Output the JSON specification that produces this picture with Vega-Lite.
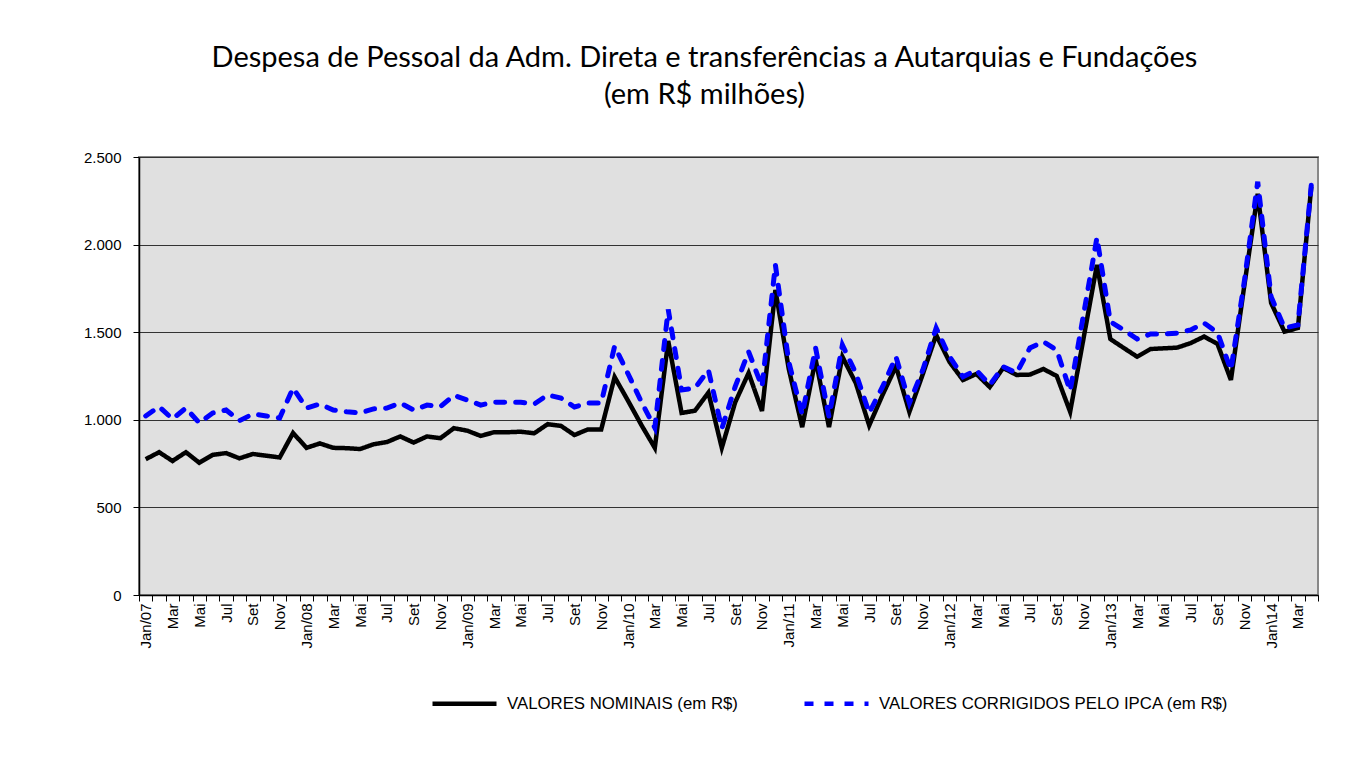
{
  "$schema": "https://vega.github.io/schema/vega-lite/v6.json",
  "width": 1179,
  "height": 438,
  "autosize": "none",
  "padding": {"left": 139, "top": 157, "right": 31, "bottom": 185},
  "background": "white",
  "title": {
    "text": ["Despesa de Pessoal da Adm. Direta e transferências a Autarquias e Fundações", "(em R$ milhões)"],
    "font": "Lato",
    "fontSize": 29,
    "fontWeight": "normal",
    "color": "black",
    "lineHeight": 37,
    "offset": 40,
    "anchor": "middle",
    "dx": -24
  },
  "data": {
    "values": [
      {"mes": "Jan/07", "nominal": 775, "ipca": 1022},
      {"mes": "Fev/07", "nominal": 815, "ipca": 1075},
      {"mes": "Mar/07", "nominal": 765, "ipca": 1005},
      {"mes": "Abr/07", "nominal": 815, "ipca": 1067},
      {"mes": "Mai/07", "nominal": 755, "ipca": 982},
      {"mes": "Jun/07", "nominal": 800, "ipca": 1039},
      {"mes": "Jul/07", "nominal": 810, "ipca": 1056},
      {"mes": "Ago/07", "nominal": 780, "ipca": 995},
      {"mes": "Set/07", "nominal": 805, "ipca": 1033},
      {"mes": "Out/07", "nominal": 795, "ipca": 1022},
      {"mes": "Nov/07", "nominal": 785, "ipca": 1010},
      {"mes": "Dez/07", "nominal": 925, "ipca": 1181},
      {"mes": "Jan/08", "nominal": 840, "ipca": 1067},
      {"mes": "Fev/08", "nominal": 865, "ipca": 1090},
      {"mes": "Mar/08", "nominal": 840, "ipca": 1056},
      {"mes": "Abr/08", "nominal": 838, "ipca": 1046},
      {"mes": "Mai/08", "nominal": 833, "ipca": 1039},
      {"mes": "Jun/08", "nominal": 860, "ipca": 1062},
      {"mes": "Jul/08", "nominal": 873, "ipca": 1067},
      {"mes": "Ago/08", "nominal": 905, "ipca": 1096},
      {"mes": "Set/08", "nominal": 870, "ipca": 1056},
      {"mes": "Out/08", "nominal": 905, "ipca": 1084},
      {"mes": "Nov/08", "nominal": 895, "ipca": 1075},
      {"mes": "Dez/08", "nominal": 952, "ipca": 1140},
      {"mes": "Jan/09", "nominal": 938, "ipca": 1113},
      {"mes": "Fev/09", "nominal": 908, "ipca": 1084},
      {"mes": "Mar/09", "nominal": 929, "ipca": 1101},
      {"mes": "Abr/09", "nominal": 929, "ipca": 1100},
      {"mes": "Mai/09", "nominal": 932, "ipca": 1100},
      {"mes": "Jun/09", "nominal": 923, "ipca": 1090},
      {"mes": "Jul/09", "nominal": 975, "ipca": 1142},
      {"mes": "Ago/09", "nominal": 965, "ipca": 1124},
      {"mes": "Set/09", "nominal": 913, "ipca": 1073},
      {"mes": "Out/09", "nominal": 945, "ipca": 1096},
      {"mes": "Nov/09", "nominal": 945, "ipca": 1096},
      {"mes": "Dez/09", "nominal": 1244, "ipca": 1420},
      {"mes": "Jan/10", "nominal": 1109, "ipca": 1263},
      {"mes": "Fev/10", "nominal": 970, "ipca": 1102},
      {"mes": "Mar/10", "nominal": 840, "ipca": 955},
      {"mes": "Abr/10", "nominal": 1450, "ipca": 1630},
      {"mes": "Mai/10", "nominal": 1039, "ipca": 1170},
      {"mes": "Jun/10", "nominal": 1052, "ipca": 1181},
      {"mes": "Jul/10", "nominal": 1155, "ipca": 1284},
      {"mes": "Ago/10", "nominal": 840, "ipca": 950},
      {"mes": "Set/10", "nominal": 1100, "ipca": 1189},
      {"mes": "Out/10", "nominal": 1267, "ipca": 1389},
      {"mes": "Nov/10", "nominal": 1050, "ipca": 1189},
      {"mes": "Dez/10", "nominal": 1741, "ipca": 1884},
      {"mes": "Jan/11", "nominal": 1290, "ipca": 1330},
      {"mes": "Fev/11", "nominal": 958, "ipca": 1030},
      {"mes": "Mar/11", "nominal": 1345, "ipca": 1410},
      {"mes": "Abr/11", "nominal": 958, "ipca": 1018},
      {"mes": "Mai/11", "nominal": 1360, "ipca": 1427},
      {"mes": "Jun/11", "nominal": 1210, "ipca": 1267},
      {"mes": "Jul/11", "nominal": 968, "ipca": 1039},
      {"mes": "Ago/11", "nominal": 1142, "ipca": 1189},
      {"mes": "Set/11", "nominal": 1305, "ipca": 1360},
      {"mes": "Out/11", "nominal": 1045, "ipca": 1096},
      {"mes": "Nov/11", "nominal": 1260, "ipca": 1284},
      {"mes": "Dez/11", "nominal": 1484, "ipca": 1524},
      {"mes": "Jan/12", "nominal": 1330, "ipca": 1360},
      {"mes": "Fev/12", "nominal": 1227, "ipca": 1246},
      {"mes": "Mar/12", "nominal": 1262, "ipca": 1284},
      {"mes": "Abr/12", "nominal": 1187, "ipca": 1199},
      {"mes": "Mai/12", "nominal": 1296, "ipca": 1303},
      {"mes": "Jun/12", "nominal": 1256, "ipca": 1267},
      {"mes": "Jul/12", "nominal": 1258, "ipca": 1410},
      {"mes": "Ago/12", "nominal": 1290, "ipca": 1446},
      {"mes": "Set/12", "nominal": 1250, "ipca": 1398},
      {"mes": "Out/12", "nominal": 1046, "ipca": 1165},
      {"mes": "Nov/12", "nominal": 1465, "ipca": 1600},
      {"mes": "Dez/12", "nominal": 1884, "ipca": 2040},
      {"mes": "Jan/13", "nominal": 1461, "ipca": 1560},
      {"mes": "Fev/13", "nominal": 1410, "ipca": 1513},
      {"mes": "Mar/13", "nominal": 1360, "ipca": 1461},
      {"mes": "Abr/13", "nominal": 1404, "ipca": 1490},
      {"mes": "Mai/13", "nominal": 1408, "ipca": 1490},
      {"mes": "Jun/13", "nominal": 1412, "ipca": 1495},
      {"mes": "Jul/13", "nominal": 1438, "ipca": 1513},
      {"mes": "Ago/13", "nominal": 1475, "ipca": 1552},
      {"mes": "Set/13", "nominal": 1433, "ipca": 1497},
      {"mes": "Out/13", "nominal": 1227, "ipca": 1284},
      {"mes": "Nov/13", "nominal": 1766, "ipca": 1790},
      {"mes": "Dez/13", "nominal": 2290, "ipca": 2359},
      {"mes": "Jan/14", "nominal": 1667, "ipca": 1703},
      {"mes": "Fev/14", "nominal": 1503, "ipca": 1524},
      {"mes": "Mar/14", "nominal": 1524, "ipca": 1541},
      {"mes": "Abr/14", "nominal": 2331, "ipca": 2340}
    ]
  },
  "transform": [{"fold": ["nominal", "ipca"], "as": ["serie", "valor"]}],
  "encoding": {
    "x": {
      "field": "mes",
      "type": "ordinal",
      "sort": null,
      "scale": {"paddingInner": 0, "paddingOuter": 0},
      "axis": {
        "title": null,
        "labelAngle": 270,
        "labelFont": "Liberation Sans",
        "labelFontSize": 15,
        "labelColor": "black",
        "labelPadding": 2,
        "labelOverlap": false,
        "tickBand": "extent",
        "tickColor": "black",
        "tickSize": 6,
        "domainColor": "black",
        "domainWidth": 1.5,
        "labelExpr": "indexof(['Jan','Mar','Mai','Jul','Set','Nov'], substring(datum.value,0,3)) < 0 ? '' : (datum.value == 'Jan/14' ? 'Jan\\\\14' : (substring(datum.value,0,3) == 'Jan' ? datum.value : substring(datum.value,0,3)))"
      }
    },
    "y": {
      "field": "valor",
      "type": "quantitative",
      "scale": {"domain": [0, 2500], "nice": false},
      "axis": {
        "title": null,
        "values": [0, 500, 1000, 1500, 2000, 2500],
        "grid": true,
        "gridColor": "#333333",
        "gridWidth": 1,
        "tickColor": "black",
        "tickSize": 6,
        "domainColor": "black",
        "domainWidth": 1.5,
        "labelFont": "Liberation Sans",
        "labelFontSize": 15,
        "labelColor": "black",
        "labelPadding": 12,
        "labelExpr": "replace(format(datum.value, ','), ',', '.')"
      }
    },
    "color": {
      "field": "serie",
      "type": "nominal",
      "scale": {"domain": ["nominal", "ipca"], "range": ["#000000", "#0000ff"]},
      "legend": {
        "orient": "none",
        "legendX": 291,
        "legendY": 512,
        "direction": "horizontal",
        "title": null,
        "symbolType": "stroke",
        "symbolSize": 4096,
        "symbolStrokeWidth": 4.5,
        "labelFont": "Liberation Sans",
        "labelFontSize": 16.8,
        "labelColor": "black",
        "labelOffset": 8,
        "columnPadding": 57,
        "labelLimit": 500,
        "labelExpr": "datum.value == 'nominal' ? 'VALORES NOMINAIS (em R$)' : 'VALORES CORRIGIDOS PELO IPCA (em R$)'"
      }
    },
    "strokeDash": {
      "field": "serie",
      "type": "nominal",
      "scale": {"domain": ["nominal", "ipca"], "range": [[1, 0], [9, 11]]},
      "legend": {
        "orient": "none",
        "legendX": 291,
        "legendY": 512,
        "direction": "horizontal",
        "title": null,
        "symbolType": "stroke",
        "symbolSize": 4096,
        "symbolStrokeWidth": 4.5,
        "labelFont": "Liberation Sans",
        "labelFontSize": 16.8,
        "labelColor": "black",
        "labelOffset": 8,
        "columnPadding": 57,
        "labelLimit": 500,
        "labelExpr": "datum.value == 'nominal' ? 'VALORES NOMINAIS (em R$)' : 'VALORES CORRIGIDOS PELO IPCA (em R$)'"
      }
    }
  },
  "layer": [
    {
      "transform": [{"filter": "datum.serie == 'nominal'"}],
      "mark": {"type": "line", "strokeWidth": 4.5}
    },
    {
      "transform": [{"filter": "datum.serie == 'ipca'"}],
      "mark": {"type": "line", "strokeWidth": 5, "strokeCap": "round"}
    }
  ],
  "config": {
    "view": {"fill": "#e0e0e0", "stroke": "#888888", "strokeWidth": 2}
  }
}
